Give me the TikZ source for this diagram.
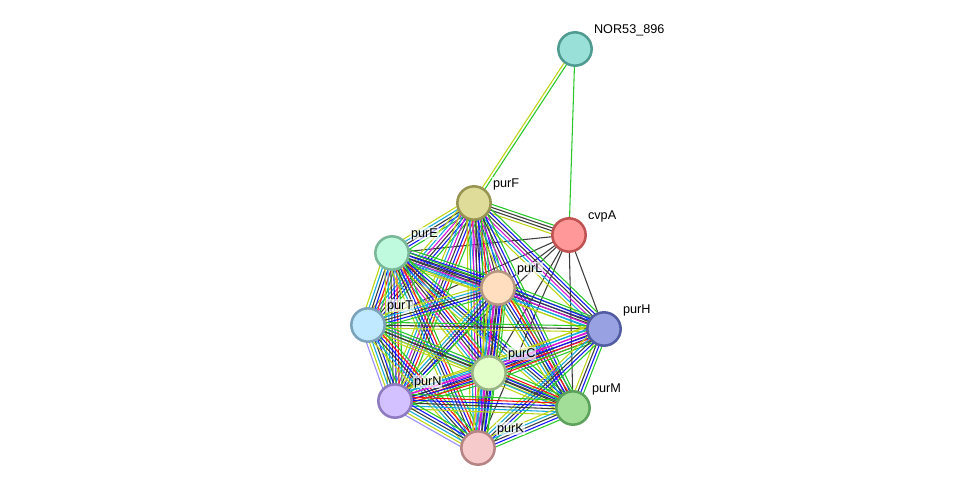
\documentclass[tikz,border=0pt]{standalone}
\usepackage{fontspec}
\setmainfont{Liberation Sans}
\usetikzlibrary{calc,backgrounds}

% evidence colours
\definecolor{cNb}{RGB}{40,200,40}
\definecolor{cFu}{RGB}{255,20,20}
\definecolor{cCo}{RGB}{20,20,255}
\definecolor{cCx}{RGB}{60,60,60}
\definecolor{cEx}{RGB}{215,20,215}
\definecolor{cDb}{RGB}{20,170,220}
\definecolor{cTm}{RGB}{190,212,20}
\definecolor{cHo}{RGB}{150,140,255}
% node colours (fill, rim)
\definecolor{fNor}{RGB}{152,224,216}\definecolor{rNor}{RGB}{80,155,145}
\definecolor{fPurF}{RGB}{222,220,152}\definecolor{rPurF}{RGB}{152,148,82}
\definecolor{fCvpA}{RGB}{255,152,152}\definecolor{rCvpA}{RGB}{192,82,82}
\definecolor{fPurE}{RGB}{192,250,222}\definecolor{rPurE}{RGB}{122,182,152}
\definecolor{fPurL}{RGB}{255,222,192}\definecolor{rPurL}{RGB}{182,152,130}
\definecolor{fPurT}{RGB}{192,232,255}\definecolor{rPurT}{RGB}{122,162,186}
\definecolor{fPurH}{RGB}{152,162,226}\definecolor{rPurH}{RGB}{82,92,162}
\definecolor{fPurC}{RGB}{226,255,202}\definecolor{rPurC}{RGB}{152,182,132}
\definecolor{fPurN}{RGB}{210,192,255}\definecolor{rPurN}{RGB}{142,122,192}
\definecolor{fPurM}{RGB}{162,222,152}\definecolor{rPurM}{RGB}{92,162,92}
\definecolor{fPurK}{RGB}{246,202,202}\definecolor{rPurK}{RGB}{182,132,132}

\tikzset{
  gene/.style={circle,draw=r#1,fill=f#1,line width=1.9pt,minimum size=25pt,inner sep=0pt},
  glabel/.style={anchor=base west,font=\fontsize{9.5}{11}\selectfont,inner sep=0.6pt,fill=white,fill opacity=0.65,text opacity=1},
  evline/.style={line width=0.8pt}
}

% parallel lines, one per evidence colour
\newcommand{\linkset}[3]{%
  \xdef\lsN{0}%
  \foreach \c in {#3}{\pgfmathtruncatemacro\lsT{\lsN+1}\global\let\lsN\lsT}%
  \foreach \c [count=\i] in {#3}{%
    \pgfmathsetmacro\lsOff{(\i-(\lsN+1)/2)*2.2}%
    \draw[evline,draw=\c] ($(#1)!\lsOff pt!90:(#2)$) -- ($(#2)!\lsOff pt!-90:(#1)$);
  }}

\begin{document}
\begin{tikzpicture}[x=0.75pt,y=0.75pt,yscale=-1,xscale=1]
  \path (0,0) rectangle (976,494);
  %Nodes
  \node[gene=Nor] (nor) at (575,49) {};
  \node[gene=PurF] (purF) at (474,203) {};
  \node[gene=CvpA] (cvpA) at (569,235) {};
  \node[gene=PurE] (purE) at (392,253) {};
  \node[gene=PurL] (purL) at (498,288) {};
  \node[gene=PurT] (purT) at (368,325) {};
  \node[gene=PurH] (purH) at (604,329) {};
  \node[gene=PurC] (purC) at (489,373) {};
  \node[gene=PurN] (purN) at (395,401) {};
  \node[gene=PurM] (purM) at (573,408) {};
  \node[gene=PurK] (purK) at (478,448) {};
  %Links
  \begin{scope}[on background layer]
    \linkset{nor}{purF}{cNb,cTm}
    \linkset{nor}{cvpA}{cNb}
    \linkset{purF}{cvpA}{cNb,cCx,cCx,cTm}
    \foreach \g in {purE,purL,purT,purH,purC,purN,purM,purK}{\linkset{cvpA}{\g}{cCx}}
    \linkset{purF}{purE}{cNb,cCo,cCx,cDb,cTm}
    \linkset{purF}{purL}{cNb,cCo,cCx,cEx,cDb,cTm}
    \linkset{purF}{purT}{cNb,cCo,cCx,cEx,cDb,cTm}
    \linkset{purF}{purH}{cNb,cCo,cCx,cEx,cDb,cTm}
    \linkset{purF}{purC}{cNb,cFu,cCo,cCx,cEx,cDb,cTm}
    \linkset{purF}{purN}{cNb,cFu,cCo,cCx,cEx,cDb,cTm}
    \linkset{purF}{purM}{cNb,cCo,cCx,cEx,cDb,cTm}
    \linkset{purF}{purK}{cNb,cCo,cCx,cEx,cDb,cTm}
    \linkset{purE}{purL}{cNb,cCo,cCx,cCx,cEx,cDb,cTm}
    \linkset{purE}{purT}{cNb,cFu,cCo,cCx,cDb,cTm}
    \linkset{purE}{purH}{cNb,cCo,cCx,cDb,cTm}
    \linkset{purE}{purC}{cNb,cFu,cCo,cCx,cEx,cDb,cTm}
    \linkset{purE}{purN}{cNb,cFu,cCo,cCx,cDb,cTm}
    \linkset{purE}{purM}{cNb,cCo,cCx,cDb,cTm}
    \linkset{purE}{purK}{cNb,cFu,cCo,cCx,cDb,cTm}
    \linkset{purL}{purT}{cNb,cCo,cCx,cDb,cTm}
    \linkset{purL}{purH}{cNb,cCo,cCx,cEx,cDb,cTm}
    \linkset{purL}{purC}{cNb,cFu,cCo,cCx,cEx,cDb,cTm}
    \linkset{purL}{purN}{cNb,cCo,cCx,cDb,cTm}
    \linkset{purL}{purM}{cNb,cFu,cCo,cCx,cDb,cTm}
    \linkset{purL}{purK}{cNb,cCo,cCx,cEx,cDb,cTm}
    \linkset{purT}{purH}{cNb,cCx,cTm}
    \linkset{purT}{purC}{cNb,cCo,cCx,cDb,cTm}
    \linkset{purT}{purN}{cNb,cCo,cCx,cDb,cTm,cHo}
    \linkset{purT}{purM}{cNb,cCx,cTm}
    \linkset{purT}{purK}{cNb,cFu,cCo,cCx,cDb,cTm}
    \linkset{purH}{purC}{cNb,cFu,cCo,cCx,cEx,cDb,cTm}
    \linkset{purH}{purN}{cNb,cFu,cCo,cEx,cDb,cTm}
    \linkset{purH}{purM}{cNb,cCo,cCx,cTm}
    \linkset{purH}{purK}{cNb,cCo,cCx,cDb,cTm}
    \linkset{purC}{purN}{cNb,cFu,cCo,cCx,cEx,cDb,cTm}
    \linkset{purC}{purM}{cNb,cFu,cCo,cCx,cDb,cTm}
    \linkset{purC}{purK}{cNb,cCo,cCx,cEx,cDb,cTm}
    \linkset{purN}{purM}{cNb,cFu,cCo,cCx,cDb,cTm}
    \linkset{purN}{purK}{cNb,cCo,cCx,cDb,cTm,cHo}
    \linkset{purM}{purK}{cNb,cCo,cCx,cDb,cTm}
  \end{scope}
  %Labels
  \node[glabel] (norL) at (593,33) {NOR53\_896};
  \node[glabel] (purFL) at (492,187) {purF};
  \node[glabel] (cvpAL) at (587,219) {cvpA};
  \node[glabel] (purEL) at (410,237) {purE};
  \node[glabel] (purLL) at (516,272) {purL};
  \node[glabel] (purTL) at (386,309) {purT};
  \node[glabel] (purHL) at (622,313) {purH};
  \node[glabel] (purCL) at (507,357) {purC};
  \node[glabel] (purNL) at (413,385) {purN};
  \node[glabel] (purML) at (591,392) {purM};
  \node[glabel] (purKL) at (496,432) {purK};
\end{tikzpicture}
\end{document}
